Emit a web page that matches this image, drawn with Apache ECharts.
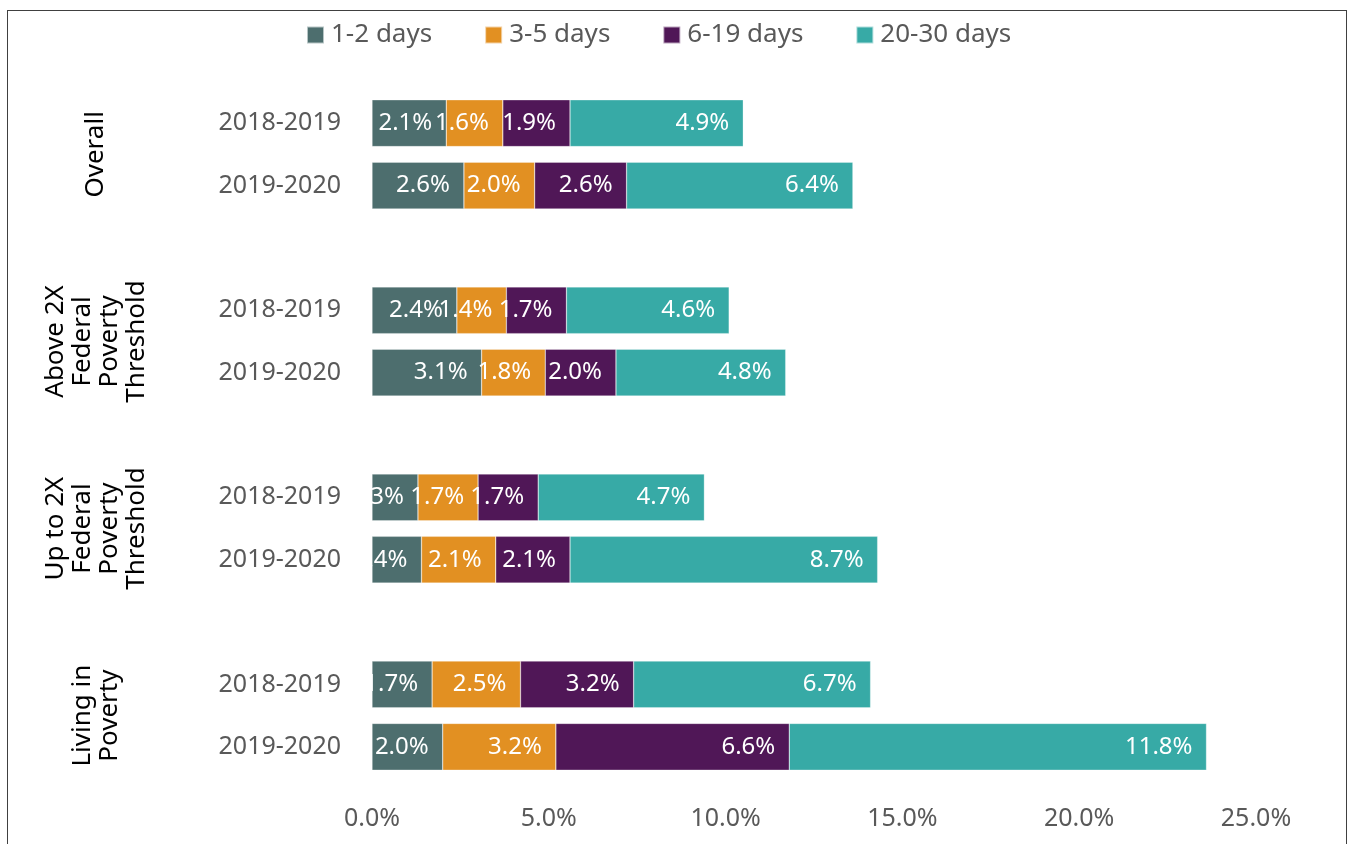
<!DOCTYPE html>
<html>
<head>
<meta charset="utf-8">
<title>Absence days by poverty level</title>
<script src="https://cdn.jsdelivr.net/npm/echarts@6/dist/echarts.min.js"></script>
<style>
  html, body { margin: 0; padding: 0; background: #fff; }
  #chart-container { width: 1356px; height: 844px; }
  #frame {
    position: absolute; left: 7px; top: 10px; width: 1338px; height: 900px;
    border: 1.5px solid #404040; pointer-events: none;
  }
</style>
</head>
<body>
<div id="chart-container"></div>
<div id="frame"></div>
<script>
var groups = ['Overall', 'Above 2X\nFederal\nPoverty\nThreshold', 'Up to 2X\nFederal\nPoverty\nThreshold', 'Living in\nPoverty'];
var years = ['2018-2019', '2019-2020'];
var seriesNames = ['1-2 days', '3-5 days', '6-19 days', '20-30 days'];
var colors = ['#4d6e6e', '#e29022', '#501757', '#37aaa6'];

// two values per group: 2018-2019, 2019-2020
var days1to2 = [2.1, 2.6, 2.4, 3.1, 1.3, 1.4, 1.7, 2.0];
var days3to5 = [1.6, 2.0, 1.4, 1.8, 1.7, 2.1, 2.5, 3.2];
var days6to19 = [1.9, 2.6, 1.7, 2.0, 1.7, 2.1, 3.2, 6.6];
var days20to30 = [4.9, 6.4, 4.6, 4.8, 4.7, 8.7, 6.7, 11.8];

// build category list with blank rows between groups
var categories = [];
var groupPos = [];
groups.forEach(function (g, gi) {
  if (gi > 0) categories.push('');
  groupPos.push(categories.length + 0.5);
  years.forEach(function (y) { categories.push(y); });
});

function withGaps(arr) {
  var out = [];
  for (var gi = 0; gi < groups.length; gi++) {
    if (gi > 0) out.push('-');
    out.push(arr[gi * 2], arr[gi * 2 + 1]);
  }
  return out;
}

var dom = document.getElementById('chart-container');
var myChart = echarts.init(dom);
var font = 'Noto Sans';

var option = {
  animation: false,
  color: colors,
  textStyle: { fontFamily: font },
  legend: {
    top: 17,
    left: 301,
    icon: 'rect',
    itemWidth: 17,
    itemHeight: 17,
    itemGap: 52,
    textStyle: { fontSize: 26, color: '#595959', fontFamily: font, padding: [0, 0, 0, 2] }
  },
  grid: { left: 372, right: 100, top: 92, bottom: 66 },
  xAxis: {
    type: 'value',
    min: 0,
    max: 25,
    interval: 5,
    splitLine: { show: false },
    axisLine: { show: false },
    axisTick: { show: false },
    axisLabel: {
      fontSize: 25,
      color: '#595959',
      margin: 28,
      formatter: function (v) { return v.toFixed(1) + '%'; }
    }
  },
  yAxis: [{
    type: 'category',
    data: categories,
    inverse: true,
    axisLine: { show: false },
    axisTick: { show: false },
    axisLabel: { fontSize: 25, color: '#595959', margin: 31 }
  }, {
    type: 'value',
    min: -0.5,
    max: categories.length - 0.5,
    inverse: true,
    position: 'left',
    offset: 276,
    splitLine: { show: false },
    axisLine: { show: false },
    axisTick: { show: false },
    axisLabel: {
      customValues: groupPos,
      rotate: 90,
      fontSize: 26,
      lineHeight: 27,
      color: '#000',
      align: 'center',
      verticalAlign: 'middle',
      margin: 0,
      formatter: function (v) {
        var i = groupPos.indexOf(v);
        return i >= 0 ? groups[i] : '';
      }
    }
  }],
  series: [days1to2, days3to5, days6to19, days20to30].map(function (arr, i) {
    return {
      name: seriesNames[i],
      type: 'bar',
      stack: 'total',
      yAxisIndex: 0,
      barCategoryGap: '25%',
      data: withGaps(arr),
      itemStyle: { borderColor: 'rgba(255,255,255,0.6)', borderWidth: 0.5 },
      label: {
        show: true,
        position: 'insideRight',
        distance: 14,
        color: '#fff',
        fontSize: 24,
        fontFamily: font,
        formatter: function (p) { return p.value.toFixed(1) + '%'; }
      }
    };
  })
};

myChart.setOption(option);
</script>
</body>
</html>
